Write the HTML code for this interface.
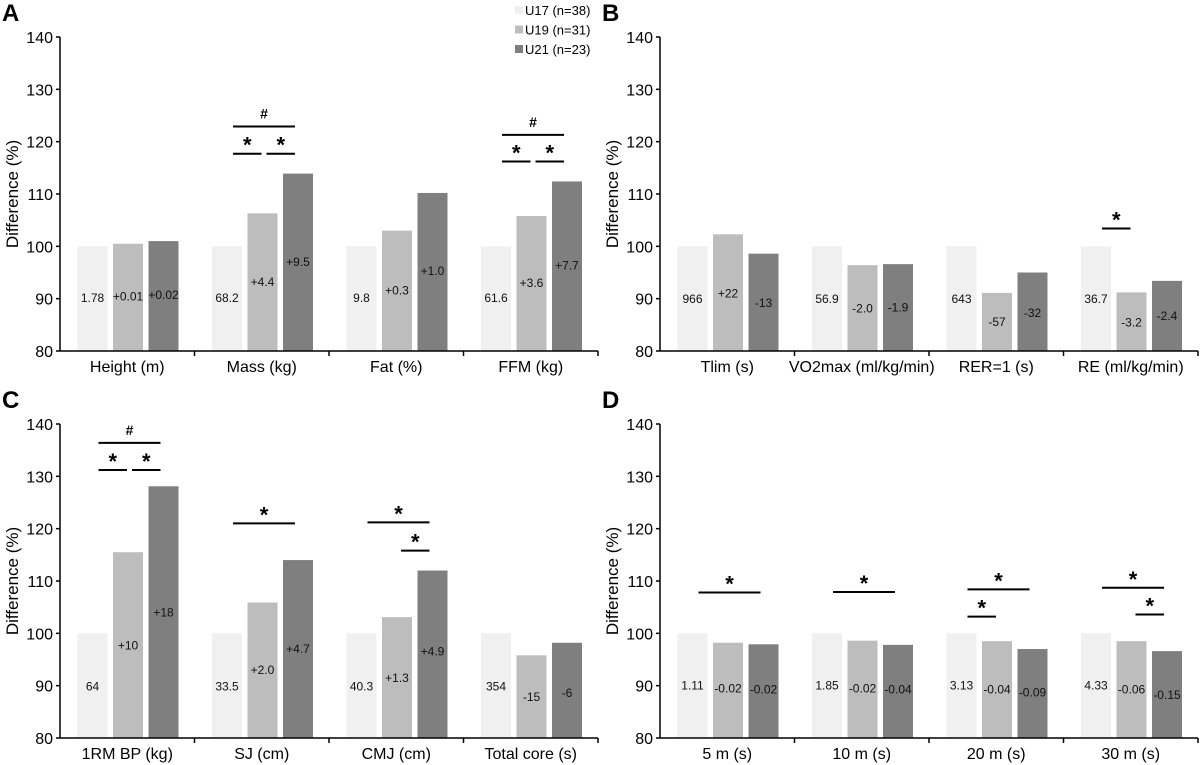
<!DOCTYPE html>
<html><head><meta charset="utf-8"><style>
html,body{margin:0;padding:0;background:#fff;}
svg{display:block;font-family:"Liberation Sans",Arial,sans-serif;}
</style></head><body>
<svg id="fig" width="1200" height="765" viewBox="0 0 1200 765"></svg>
<script>
const seriesNames = ["U17 (n=38)","U19 (n=31)","U21 (n=23)"];
const seriesColors = ["#f0f0f0","#bdbdbd","#7f7f7f"];
const yTicks = [80,90,100,110,120,130,140];

const catsA = ["Height (m)","Mass (kg)","Fat (%)","FFM (kg)"];
const valsA = [[100,100.5,101],[100,106.3,113.9],[100,103,110.2],[100,105.8,112.4]];
const labA = [["1.78","+0.01","+0.02"],["68.2","+4.4","+9.5"],["9.8","+0.3","+1.0"],["61.6","+3.6","+7.7"]];
const labYA = [[90.1,90.4,90.7],[90.1,93.2,97],[90.1,91.6,95.3],[90.1,93,96.3]];
const sigA = [[1,0,2,122.9,"#"],[1,0,1,117.7,"*"],[1,1,2,117.7,"*"],[3,0,2,121.3,"#"],[3,0,1,116.2,"*"],[3,1,2,116.2,"*"]];

const catsB = ["Tlim (s)","VO2max (ml/kg/min)","RER=1 (s)","RE (ml/kg/min)"];
const valsB = [[100,102.3,98.6],[100,96.4,96.6],[100,91.1,95],[100,91.2,93.4]];
const labB = [["966","+22","-13"],["56.9","-2.0","-1.9"],["643","-57","-32"],["36.7","-3.2","-2.4"]];
const labYB = [[89.9,91,89.2],[89.9,88.1,88.3],[89.9,85.5,87.3],[89.9,85.4,86.7]];
const sigB = [[3,0,1,103.4,"*"]];

const catsC = ["1RM BP (kg)","SJ (cm)","CMJ (cm)","Total core (s)"];
const valsC = [[100,115.5,128.1],[100,105.9,114],[100,103.1,112],[100,95.8,98.2]];
const labC = [["64","+10","+18"],["33.5","+2.0","+4.7"],["40.3","+1.3","+4.9"],["354","-15","-6"]];
const labYC = [[89.8,97.7,104],[89.8,93,97],[89.8,91.5,96.5],[89.8,87.8,88.6]];
const sigC = [[0,0,2,136.4,"#"],[0,0,1,131.2,"*"],[0,1,2,131.2,"*"],[1,0,2,121,"*"],[2,0,2,121.2,"*"],[2,1,2,115.8,"*"]];

const catsD = ["5 m  (s)","10 m (s)","20 m (s)","30 m (s)"];
const valsD = [[100,98.2,97.9],[100,98.6,97.8],[100,98.5,97],[100,98.5,96.6]];
const labD = [["1.11","-0.02","-0.02"],["1.85","-0.02","-0.04"],["3.13","-0.04","-0.09"],["4.33","-0.06","-0.15"]];
const labYD = [[90,89.5,89.3],[90,89.5,89.3],[90,89.3,88.7],[90,89.3,88.2]];
const sigD = [[0,0,2,107.8,"*"],[1,0,2,107.9,"*"],[2,0,2,108.4,"*"],[2,0,1,103.2,"*"],[3,0,2,108.7,"*"],[3,1,2,103.6,"*"]];

const NS="http://www.w3.org/2000/svg";
const svg=document.getElementById('fig');
function mk(tag,attrs,parent,text){const e=document.createElementNS(NS,tag);for(const k in attrs)e.setAttribute(k,attrs[k]);if(text!==undefined)e.textContent=text;(parent||svg).appendChild(e);return e;}

function panel(letter,x0,xEnd,yTopPx,yBotPx,cats,vals,labs,labY,sigs){
  const g=mk('g',{});
  
  
  const y=v=>yBotPx-(v-80)/60*(yBotPx-yTopPx);
  const cw=(xEnd-x0)/cats.length;
  const bx=(c,s)=>x0+c*cw+32.5+s*35.5;
  const pl=mk('text',{x:x0-58,y:yTopPx-16,'font-size':24,'font-weight':'bold',fill:'#000'},g,letter);
  
  
  // bars
  cats.forEach((c,ci)=>{
    vals[ci].forEach((v,si)=>{
      const r=mk('rect',{x:bx(ci,si)-15,y:y(v),width:30,height:y(80)-y(v),fill:seriesColors[si]},g);
      
      
      const t=mk('text',{x:bx(ci,si),y:y(labY[ci][si])+4,'font-size':12,'text-anchor':'middle',fill:'#111'},g,labs[ci][si]);
      
      
    });
    const cl=mk('text',{x:x0+ci*cw+cw/2,y:y(80)+21,'font-size':16,'text-anchor':'middle',fill:'#000'},g,c);
    
    
    mk('line',{x1:x0+(ci+1)*cw,x2:x0+(ci+1)*cw,y1:y(80),y2:y(80)+5,stroke:'#000','stroke-width':1.5},g);
  });
  // axes
  const ya=mk('line',{x1:x0,x2:x0,y1:yTopPx,y2:y(80),stroke:'#000','stroke-width':1.5},g);
  
  
  const xa=mk('line',{x1:x0,x2:xEnd,y1:y(80),y2:y(80),stroke:'#000','stroke-width':1.5},g);
  
  
  yTicks.forEach(v=>{
    mk('line',{x1:x0-4,x2:x0,y1:y(v),y2:y(v),stroke:'#000','stroke-width':1.5},g);
    const t=mk('text',{x:x0-7,y:y(v)+6,'font-size':16,'text-anchor':'end',fill:'#000'},g,String(v));
    
    
  });
  const yt=mk('text',{x:0,y:0,'font-size':17,'text-anchor':'middle',fill:'#000',transform:`translate(${x0-42},${y(110)}) rotate(-90)`},g,'Difference (%)');
  
  
  // significance
  sigs.forEach(s=>{
    const [ci,a,b,v,sym]=s;
    let x1=bx(ci,a)+6, x2=bx(ci,b)-3;
    if(b-a===1){ if(a===0)x2=bx(ci,1)-1; else x1=bx(ci,1)+4; }
    const l=mk('line',{x1:x1,x2:x2,y1:y(v),y2:y(v),stroke:'#000','stroke-width':2},g);
    
    
    const t=mk('text',{x:(x1+x2)/2,y:y(v)-(sym==='#'?8:1),'font-size':sym==='#'?14:22,'font-weight':'bold','text-anchor':'middle',fill:'#000'},g,sym);
    
    
  });
}
panel('A',60,598,37,351,catsA,valsA,labA,labYA,sigA);
panel('B',660,1198,37,351,catsB,valsB,labB,labYB,sigB);
panel('C',60,598,424,738,catsC,valsC,labC,labYC,sigC);
panel('D',660,1198,424,738,catsD,valsD,labD,labYD,sigD);

// legend
const lg=mk('g',{});


seriesNames.forEach((n,i)=>{
  const yy=10+i*19.5;
  const e=mk('g',{},lg);
  
  
  mk('rect',{x:515,y:yy-4,width:8,height:8,fill:seriesColors[i]},e);
  mk('text',{x:525,y:yy+5,'font-size':13,fill:'#000'},e,n);
});
</script>
</body></html>
